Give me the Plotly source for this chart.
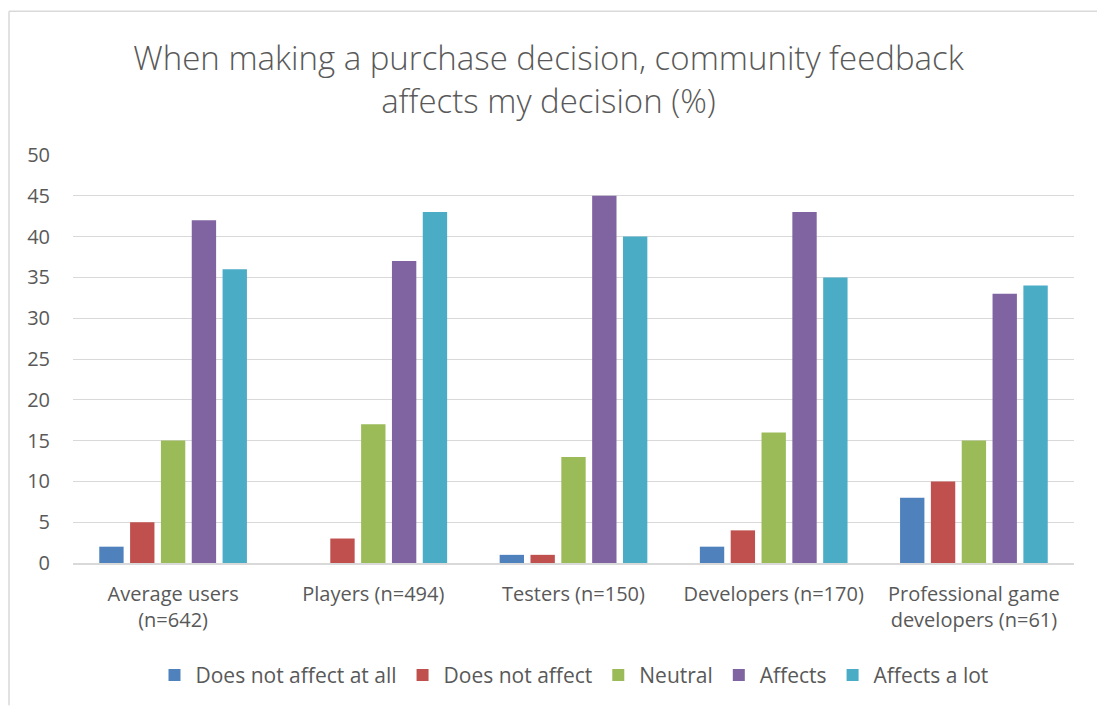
import plotly.graph_objects as go

categories = ["Average users<br>(n=642)", "Players (n=494)", "Testers (n=150)",
              "Developers (n=170)", "Professional game<br>developers (n=61)"]
series_names = ["Does not affect at all", "Does not affect", "Neutral", "Affects", "Affects a lot"]
not_at_all = [2, 0, 1, 2, 8]
not_affect = [5, 3, 1, 4, 10]
neutral = [15, 17, 13, 16, 15]
affects = [42, 37, 45, 43, 33]
affects_lot = [36, 43, 40, 35, 34]
colors = ["#4F81BD", "#C0504D", "#9BBB59", "#8064A2", "#4BACC6"]

values = [not_at_all, not_affect, neutral, affects, affects_lot]

W, H = 1097, 708
L, R, T, B = 73, 23, 155, 143
pw, ph = W - L - R, H - T - B

fig = go.Figure()
for name, vals, c in zip(series_names, values, colors):
    fig.add_trace(go.Bar(x=categories, y=vals, name=name, marker_color=c,
                         marker_line_width=0))

font = "Open Sans"
grey = "#595959"
fig.update_layout(
    width=W, height=H,
    margin=dict(l=L, r=R, t=T, b=B),
    paper_bgcolor="white", plot_bgcolor="white",
    barmode="group", bargap=0.23, bargroupgap=0.21,
    title=dict(text="When making a purchase decision, community feedback<br>affects my decision (%)",
               x=0.5, xanchor="center", y=1 - 70 / H, yanchor="middle",
               font=dict(family=font, size=33, color=grey, weight=300)),
    font=dict(family=font, color=grey),
    showlegend=True,
    legend=dict(orientation="h", x=0.5, xanchor="center", y=(T + ph - 678) / ph,
                yanchor="middle", font=dict(size=21, color=grey), traceorder="normal",
                itemwidth=32),
    xaxis=dict(showgrid=False, showline=True, linecolor="#D9D9D9", linewidth=1.5,
               tickfont=dict(size=20, color=grey), ticks="", ticklabelstandoff=12),
    yaxis=dict(range=[0, 50], dtick=5, showgrid=True, gridcolor="#D9D9D9", gridwidth=1.2,
               zeroline=False, showline=False, tickfont=dict(size=20, color=grey),
               ticks="", ticklabelstandoff=22),
    shapes=[
        dict(type="line", xref="paper", yref="paper",
             x0=(9 - L) / pw, x1=(W - L) / pw, y0=(H - 10.5 - B) / ph, y1=(H - 10.5 - B) / ph,
             line=dict(color="#D9D9D9", width=1.5)),
        dict(type="line", xref="paper", yref="paper",
             x0=(9 - L) / pw, x1=(9 - L) / pw, y0=(H - 10.5 - B) / ph, y1=-B / ph,
             line=dict(color="#D9D9D9", width=1.5)),
    ],
)
fig.write_html("out.html")
